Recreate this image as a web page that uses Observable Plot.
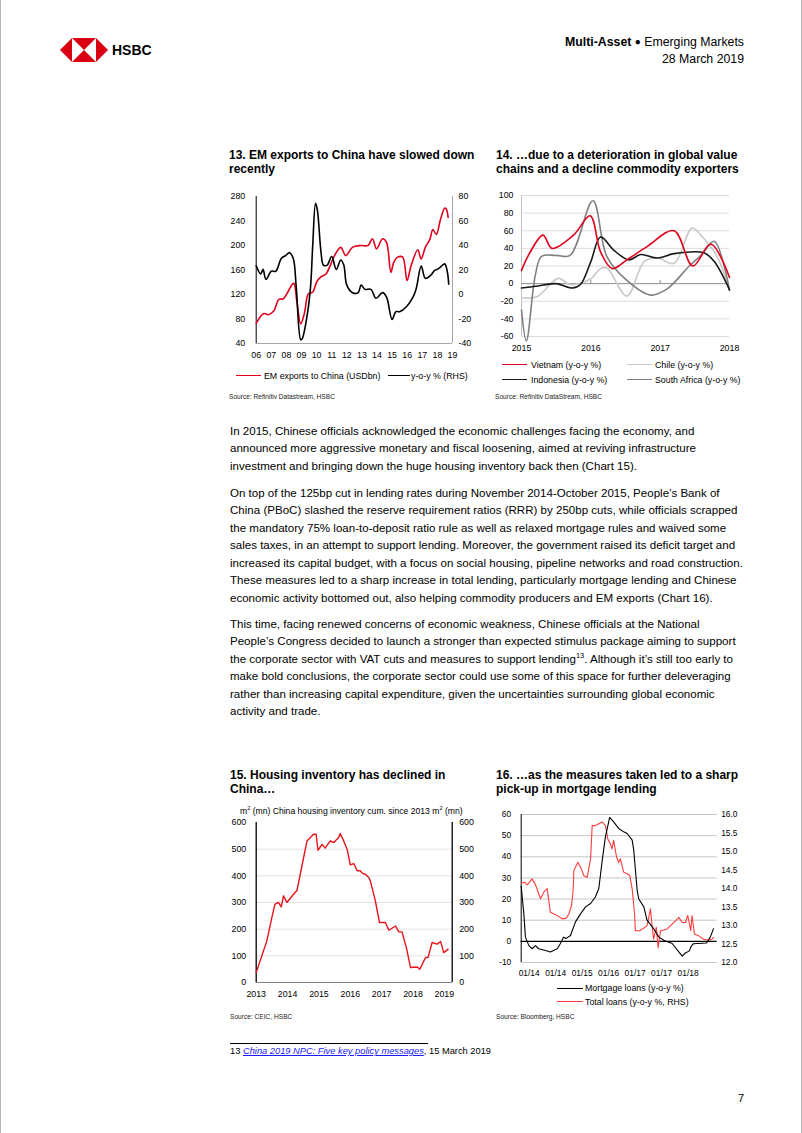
<!DOCTYPE html>
<html><head><meta charset="utf-8">
<script src="https://cdn.jsdelivr.net/npm/d3@7"></script>
<script src="https://cdn.jsdelivr.net/npm/@observablehq/plot@0.6"></script>
<style>
body{margin:0;background:#fff;}
#page{position:relative;width:802px;height:1133px;overflow:hidden;font-family:"Liberation Sans",Arial,sans-serif;color:#000;background:#fff;}
.a{position:absolute;white-space:nowrap;}
.t{font-weight:bold;font-size:12px;line-height:14.5px;}
.body{font-size:11.55px;line-height:17.6px;left:230px;}
.leg{font-size:8.8px;line-height:12px;}
.src{font-size:6.6px;line-height:8px;color:#222;}
.sw{position:absolute;height:0;}
.chart{position:absolute;}
.chart svg{display:block;overflow:visible;}
sup{font-size:65%;line-height:0;vertical-align:super;}
</style></head><body><div id="page">

<div class="a" style="left:0;top:0;width:1px;height:1133px;background:#b5b5b5"></div>
<div class="a" style="left:801px;top:0;width:1px;height:1133px;background:#b5b5b5"></div>

<svg class="a" style="left:60px;top:38px" width="48" height="24" viewBox="0 0 48 24">
  <polygon points="0,12 12,0 12,24" fill="#db0011"/>
  <polygon points="48,12 36,0 36,24" fill="#db0011"/>
  <polygon points="12,0 36,0 24,12" fill="#db0011"/>
  <polygon points="12,24 36,24 24,12" fill="#db0011"/>
</svg>
<div class="a" style="left:112px;top:41px;font-weight:bold;font-size:14px;line-height:18px;">HSBC</div>
<div class="a" style="left:480px;width:264px;text-align:right;top:34px;font-size:12.3px;line-height:16px;"><b>Multi-Asset</b> <span style="font-size:10px;position:relative;top:-1px">&#9679;</span> Emerging Markets<br>28 March 2019</div>

<div class="a t" style="left:229px;top:147.5px;">13. EM exports to China have slowed down<br>recently</div>
<div class="a t" style="left:496px;top:147.5px;">14. …due to a deterioration in global value<br>chains and a decline commodity exporters</div>

<div id="c13" class="chart" style="left:225px;top:186px;"></div>
<div id="c14" class="chart" style="left:490px;top:185px;"></div>

<div class="sw" style="left:236px;top:375.2px;width:25px;border-top:1.6px solid #e0001b"></div>
<div class="a leg" style="left:264px;top:370px;">EM exports to China (USDbn)</div>
<div class="sw" style="left:388px;top:375.2px;width:22px;border-top:1.6px solid #000"></div>
<div class="a leg" style="left:411px;top:370px;">y-o-y % (RHS)</div>
<div class="a src" style="left:229px;top:393.3px;">Source: Refinitiv Datastream, HSBC</div>

<div class="sw" style="left:502px;top:364.2px;width:25px;border-top:1.6px solid #e0001b"></div>
<div class="a leg" style="left:531px;top:359px;">Vietnam (y-o-y %)</div>
<div class="sw" style="left:627px;top:364.2px;width:25px;border-top:1.6px solid #c8c8c8"></div>
<div class="a leg" style="left:655px;top:359px;">Chile (y-o-y %)</div>
<div class="sw" style="left:502px;top:378.7px;width:25px;border-top:1.6px solid #1a1a1a"></div>
<div class="a leg" style="left:531px;top:373.5px;">Indonesia (y-o-y %)</div>
<div class="sw" style="left:627px;top:378.7px;width:25px;border-top:1.6px solid #808080"></div>
<div class="a leg" style="left:655px;top:373.5px;">South Africa (y-o-y %)</div>
<div class="a src" style="left:495px;top:393.3px;">Source: Refinitiv DataStream, HSBC</div>

<div class="a body" style="top:422.9px;">In 2015, Chinese officials acknowledged the economic challenges facing the economy, and<br>announced more aggressive monetary and fiscal loosening, aimed at reviving infrastructure<br>investment and bringing down the huge housing inventory back then (Chart 15).</div>
<div class="a body" style="top:484.5px;">On top of the 125bp cut in lending rates during November 2014-October 2015, People’s Bank of<br>China (PBoC) slashed the reserve requirement ratios (RRR) by 250bp cuts, while officials scrapped<br>the mandatory 75% loan-to-deposit ratio rule as well as relaxed mortgage rules and waived some<br>sales taxes, in an attempt to support lending. Moreover, the government raised its deficit target and<br>increased its capital budget, with a focus on social housing, pipeline networks and road construction.<br>These measures led to a sharp increase in total lending, particularly mortgage lending and Chinese<br>economic activity bottomed out, also helping commodity producers and EM exports (Chart 16).</div>
<div class="a body" style="top:615.5px;">This time, facing renewed concerns of economic weakness, Chinese officials at the National<br>People’s Congress decided to launch a stronger than expected stimulus package aiming to support<br>the corporate sector with VAT cuts and measures to support lending<sup>13</sup>. Although it’s still too early to<br>make bold conclusions, the corporate sector could use some of this space for further deleveraging<br>rather than increasing capital expenditure, given the uncertainties surrounding global economic<br>activity and trade.</div>

<div class="a t" style="left:230px;top:767.5px;">15. Housing inventory has declined in<br>China…</div>
<div class="a t" style="left:496px;top:767.5px;">16. …as the measures taken led to a sharp<br>pick-up in mortgage lending</div>

<div id="c15" class="chart" style="left:225px;top:811.7px;"></div>
<div id="c16" class="chart" style="left:490px;top:804px;"></div>
<div class="a" style="left:240px;top:804.5px;font-size:8.6px;line-height:12px;">m<sup>2</sup> (mn) China housing inventory cum. since 2013 m<sup>2</sup> (mn)</div>

<div class="a src" style="left:230px;top:1012.7px;">Source: CEIC, HSBC</div>
<div class="sw" style="left:557px;top:987.6px;width:26px;border-top:1.2px solid #000"></div>
<div class="a leg" style="left:585px;top:982.3px;">Mortgage loans (y-o-y %)</div>
<div class="sw" style="left:557px;top:1001px;width:26px;border-top:1.2px solid #ff3c3c"></div>
<div class="a leg" style="left:585px;top:995.7px;">Total loans (y-o-y %, RHS)</div>
<div class="a src" style="left:496px;top:1013.3px;">Source: Bloomberg, HSBC</div>

<div class="a" style="left:230px;top:1043px;width:198px;height:0;border-top:1px solid #000"></div>
<div class="a" style="left:230px;top:1045px;font-size:9.3px;line-height:12px;">13 <a style="color:#1a1aff;font-style:italic;text-decoration:underline;">China 2019 NPC: Five key policy messages</a>, 15 March 2019</div>
<div class="a" style="left:738px;top:1091px;font-size:11px;line-height:14px;">7</div>

</div>
<script>
// ---------- Chart 13 data ----------
const c13ExportYears = [2006.0,2006.5,2006.8,2007.16,2007.5,2007.8,2008.4,2008.5,2008.7,2008.95,2009.2,2009.45,2009.75,2010.0,2010.3,2010.6,2010.95,2011.13,2011.6,2011.93,2012.37,2012.93,2013.4,2013.7,2013.97,2014.37,2014.63,2014.92,2015.1,2015.37,2015.7,2015.99,2016.26,2016.7,2016.92,2017.2,2017.5,2017.7,2017.93,2018.2,2018.48,2018.58,2018.71];
const c13Exports     = [73,89,87,93,112,113,137,138,107,72,90,121,124,140,149,153,170,181,197,183.5,197,200,200,211,194.5,211,205,156,172,181,181,143,167,193,178,197,210,226,218,242,261,260,246];
const c13YoyYears = [2006.0,2006.3,2006.45,2006.65,2007.0,2007.3,2007.67,2007.97,2008.2,2008.45,2008.65,2008.95,2009.05,2009.4,2009.6,2009.75,2009.93,2010.05,2010.3,2010.45,2010.7,2011.0,2011.3,2011.6,2011.8,2012.0,2012.38,2012.75,2012.95,2013.2,2013.6,2013.93,2014.37,2014.63,2015.0,2015.25,2015.5,2015.95,2016.4,2016.6,2016.93,2017.2,2017.58,2017.8,2018.1,2018.48,2018.65,2018.75];
const c13Yoy      = [23.5,16.8,20.5,12.4,19,19,29.6,32,34.2,29.6,6.4,-37,-36,-15,6.4,41.8,74.5,69,33.6,24,24,31,20.5,28.2,24,7.7,1.5,1.5,7.7,4.2,4.2,-3,1.5,-2,-20.3,-14,-14,-10,-1.8,5,23.3,13.2,16,19.5,21.3,25,19,8.5];
const c13TickYears  = [2006,2007,2008,2009,2010,2011,2012,2013,2014,2015,2016,2017,2018,2019];
const c13TickLabels = ["06","07","08","09","10","11","12","13","14","15","16","17","18","19"];
const c13LeftTicks  = [40,80,120,160,200,240,280];
const c13RightTicks = [-40,-20,0,20,40,60,80];

// ---------- Chart 14 data ----------
const c14VietnamX = [2015.0,2015.12,2015.31,2015.44,2015.75,2015.99,2016.14,2016.31,2016.52,2016.81,2017.2,2017.47,2017.73,2018.0];
const c14Vietnam  = [15,35,55,40,55,77,36,17,27,42,60,20,45,7];
const c14ChileX   = [2015.0,2015.22,2015.53,2015.7,2015.99,2016.14,2016.23,2016.52,2016.77,2016.96,2017.2,2017.46,2017.62,2017.82,2018.0];
const c14Chile    = [-16,-15,6,-1,5,17,18,-14,25,29,23,63,52,31,-8];
const c14IndonesiaX = [2015.0,2015.2,2015.5,2015.73,2015.85,2016.0,2016.14,2016.33,2016.55,2016.72,2016.96,2017.2,2017.63,2017.78,2018.0];
const c14Indonesia  = [-5,-3,0,-5,-1,25,53,38,27,33,29,34,35,25,-7];
const c14SAfricaX = [2015.0,2015.07,2015.2,2015.29,2015.5,2015.7,2016.03,2016.23,2016.5,2016.86,2017.1,2017.42,2017.6,2017.78,2018.0];
const c14SAfrica  = [-30,-65,10,31,32,32,94,31,5,-13,-6,20,33,48,-7];
const c14YTicks = [-60,-40,-20,0,20,40,60,80,100];
const c14XTicks = [2015,2016,2017,2018];

// ---------- Chart 15 data ----------
const c15Years = [2013.0,2013.18,2013.34,2013.5,2013.6,2013.71,2013.8,2013.87,2013.98,2014.19,2014.3,2014.62,2014.83,2014.91,2014.97,2015.1,2015.2,2015.36,2015.47,2015.63,2015.68,2015.79,2015.9,2016.0,2016.11,2016.22,2016.32,2016.38,2016.48,2016.59,2016.64,2016.8,2016.93,2017.12,2017.23,2017.44,2017.55,2017.65,2017.8,2017.92,2018.13,2018.22,2018.4,2018.48,2018.61,2018.77,2018.88,2018.98,2019.12];
const c15Inventory = [37,100,156,244,294,300,284,325,300,331,345,531,556,556,496,518,504,531,525,544,559,531,500,441,446,419,419,410,406,394,381,306,225,225,196,212,190,190,125,56,58,50,94,94,150,144,154,112,125];
const c15YTicks = [0,100,200,300,400,500,600];
const c15XTicks = [2013,2014,2015,2016,2017,2018,2019];

// ---------- Chart 16 data ----------
const c16MortMonths = [0,1,1.6,2.9,4.1,5.4,6.6,9.2,11,13.6,14.8,16,17,18.6,20.5,22.4,24.3,26.2,28,29.3,30.6,31.8,33.4,34.9,36.8,38.7,40,41.9,42.5,43.8,44.4,46.3,47.5,50,52,53.8,57,59.5,60.8,62,63.5,64,65,70,71.4,72.6];
const c16Mortgage   = [26,13,2,-2,-3.5,-2,-3.5,-4.3,-5,-3.5,-1,2,1.4,2.8,9.2,13,16.3,17.9,21,25,38.4,49.4,58.6,56.5,53.4,51.8,51,47.9,43,24,20,16.3,10,6,2,0.5,-1,-5,-7,-5.5,-4.5,-2.7,-1.1,-0.8,2,6];
const c16LoanMonths = [0,1.3,2.3,4.1,5.4,7.3,8.5,9.8,11,12.8,15.5,17,18,19,19.6,19.9,21.4,22.6,23.6,24.9,26.2,26.8,28,29.3,30.5,31.8,32.7,33.7,34.3,34.9,36,36.8,37.4,38.7,40,41,41.9,42.8,43.1,44.8,47.5,48.8,49.4,50,51,51.7,52.6,55,57.6,59.5,60.8,62,62.9,64,64.5,65.4,67,68.9,70.8,72,72.6];
const c16TotalLoans = [14.14,14.17,14.1,14.26,14.1,13.72,13.9,14.0,13.36,13.3,13.18,13.2,13.31,13.54,13.94,14.49,14.71,14.55,14.35,14.3,14.8,15.7,15.7,15.75,15.8,15.7,15.34,15.2,15.07,15.3,14.85,14.7,14.8,14.44,14.4,14.35,13.99,13.31,12.86,12.86,12.99,13.45,13.0,12.63,12.95,12.4,12.86,12.9,13.08,13.22,13.08,13.08,13.27,12.86,13.27,12.77,12.72,12.63,12.6,12.63,12.68];
const c16LeftTicks  = [-10,0,10,20,30,40,50,60];
const c16RightTicks = [12.0,12.5,13.0,13.5,14.0,14.5,15.0,15.5,16.0];
const c16TickPos    = [3,13,23,33,43,53,63];
const c16TickLabels = ["01/14","01/14","01/15","01/16","01/17","01/17","01/18"];

// ---------- helpers ----------
const pts = (xs, ys) => xs.map((x, i) => ({x, y: ys[i]}));
const FONT = "'Liberation Sans', Arial, sans-serif";
const baseStyle = (fs) => ({fontFamily: FONT, fontSize: fs, background: "transparent", color: "#000", overflow: "visible"});

// ---------- Chart 13 ----------
const c13Map = v => 2 * v + 120;
document.getElementById("c13").append(Plot.plot({
  width: 260, height: 179, marginTop: 10, marginBottom: 22, marginLeft: 30.7, marginRight: 33,
  x: {domain: [2006, 2019], label: null}, y: {domain: [40, 280], label: null},
  style: baseStyle("8.8px"),
  marks: [
    Plot.ruleY([40], {stroke: "#a6a6a6"}),
    Plot.ruleX([2019], {stroke: "#a6a6a6"}),
    Plot.ruleX([2006], {stroke: "#000"}),
    Plot.axisY(c13LeftTicks, {anchor: "left", tickSize: 0, tickPadding: 11, label: null, tickFormat: d => String(d)}),
    Plot.axisY(c13RightTicks.map(c13Map), {anchor: "right", tickSize: 0, tickPadding: 6, label: null, tickFormat: d => String((d - 120) / 2)}),
    Plot.axisX(c13TickYears, {anchor: "bottom", tickSize: 0, tickPadding: 8, label: null, tickFormat: d => c13TickLabels[c13TickYears.indexOf(d)]}),
    Plot.line(pts(c13ExportYears, c13Exports), {x: "x", y: "y", stroke: "#e0001b", strokeWidth: 1.6, curve: "catmull-rom"}),
    Plot.line(pts(c13YoyYears, c13Yoy), {x: "x", y: d => c13Map(d.y), stroke: "#000", strokeWidth: 1.6, curve: "catmull-rom"})
  ]
}));

// ---------- Chart 14 ----------
document.getElementById("c14").append(Plot.plot({
  width: 260, height: 171, marginTop: 10, marginBottom: 20, marginLeft: 31, marginRight: 21,
  x: {domain: [2015, 2018], label: null}, y: {domain: [-60, 100], label: null},
  style: baseStyle("8.8px"),
  marks: [
    Plot.gridY(c14YTicks.filter(d => d !== 0), {stroke: "#dcdcdc", strokeOpacity: 1}),
    Plot.ruleX([2015], {stroke: "#c4c4c4"}),
    Plot.ruleY([0], {stroke: "#8c8c8c"}),
    Plot.ruleX([2016, 2017], {y1: 0, y2: 3.5, stroke: "#8c8c8c"}),
    Plot.axisY(c14YTicks, {anchor: "left", tickSize: 0, tickPadding: 8, label: null, tickFormat: d => String(d)}),
    Plot.axisX(c14XTicks, {anchor: "bottom", tickSize: 0, tickPadding: 8, label: null, tickFormat: d => String(d)}),
    Plot.line(pts(c14ChileX, c14Chile), {x: "x", y: "y", stroke: "#c8c8c8", strokeWidth: 1.6, curve: "catmull-rom"}),
    Plot.line(pts(c14SAfricaX, c14SAfrica), {x: "x", y: "y", stroke: "#808080", strokeWidth: 1.6, curve: "catmull-rom"}),
    Plot.line(pts(c14IndonesiaX, c14Indonesia), {x: "x", y: "y", stroke: "#1a1a1a", strokeWidth: 1.6, curve: "catmull-rom"}),
    Plot.line(pts(c14VietnamX, c14Vietnam), {x: "x", y: "y", stroke: "#e0001b", strokeWidth: 1.6, curve: "catmull-rom"})
  ]
}));

// ---------- Chart 15 ----------
document.getElementById("c15").append(Plot.plot({
  width: 260, height: 192, marginTop: 10, marginBottom: 22, marginLeft: 30.7, marginRight: 33.3,
  x: {domain: [2013, 2019.25], label: null}, y: {domain: [0, 600], label: null},
  style: baseStyle("8.8px"),
  marks: [
    Plot.gridY(c15YTicks.filter(d => d > 0 && d < 600), {stroke: "#e3e3e3", strokeOpacity: 1}),
    Plot.ruleY([0], {stroke: "#808080"}),
    Plot.ruleX([2013, 2019.25], {stroke: "#000", strokeWidth: 1.3}),
    Plot.axisY(c15YTicks, {anchor: "left", tickSize: 0, tickPadding: 10, label: null, tickFormat: d => String(d)}),
    Plot.axisY(c15YTicks, {anchor: "right", tickSize: 0, tickPadding: 7, label: null, tickFormat: d => String(d)}),
    Plot.axisX(c15XTicks, {anchor: "bottom", tickSize: 0, tickPadding: 8, label: null, tickFormat: d => String(d)}),
    Plot.line(pts(c15Years, c15Inventory), {x: "x", y: "y", stroke: "#e8141c", strokeWidth: 1.4})
  ]
}));

// ---------- Chart 16 ----------
const c16Map = r => -10 + (r - 12) * 17.5;
document.getElementById("c16").append(Plot.plot({
  width: 260, height: 180, marginTop: 10, marginBottom: 22, marginLeft: 30.7, marginRight: 33.3,
  x: {domain: [0, 74], label: null}, y: {domain: [-10, 60], label: null},
  style: baseStyle("8.4px"),
  marks: [
    Plot.gridY(c16LeftTicks.filter(d => d !== 0), {stroke: "#c6c6c6", strokeOpacity: 1}),
    Plot.ruleY([0], {stroke: "#000", strokeWidth: 1.2}),
    Plot.ruleX([0], {stroke: "#000"}),
    Plot.axisY(c16LeftTicks, {anchor: "left", tickSize: 0, tickPadding: 10, label: null, tickFormat: d => String(d)}),
    Plot.axisY(c16RightTicks.map(c16Map), {anchor: "right", tickSize: 0, tickPadding: 4, label: null, tickFormat: d => ((d + 10) / 17.5 + 12).toFixed(1)}),
    Plot.axisX(c16TickPos, {anchor: "bottom", tickSize: 0, tickPadding: 8, label: null, tickFormat: d => c16TickLabels[c16TickPos.indexOf(d)]}),
    Plot.line(pts(c16LoanMonths, c16TotalLoans), {x: "x", y: d => c16Map(d.y), stroke: "#ff3c3c", strokeWidth: 1.1}),
    Plot.line(pts(c16MortMonths, c16Mortgage), {x: "x", y: "y", stroke: "#000", strokeWidth: 1.1})
  ]
}));
</script>
</body></html>
